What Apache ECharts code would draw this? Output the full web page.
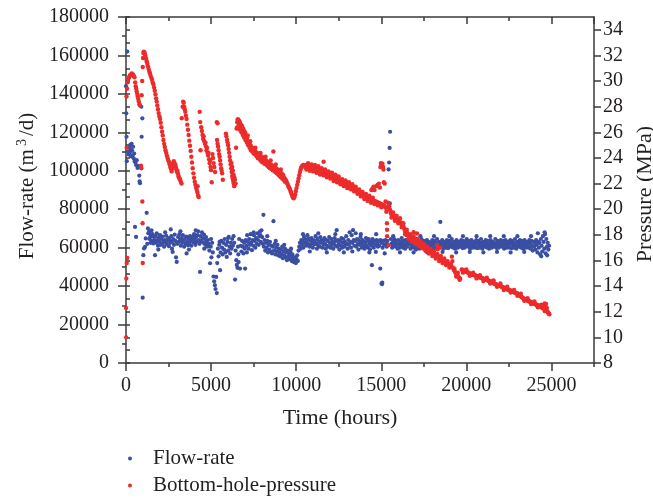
<!DOCTYPE html>
<html>
<head>
<meta charset="utf-8">
<script src="https://cdn.jsdelivr.net/npm/echarts@6/dist/echarts.min.js"></script>
<style>
html,body{margin:0;padding:0;background:#fff;}
#chart{width:653px;height:501px;}
</style>
</head>
<body>
<div id="chart"></div>
<script>
// x-axis ticks (hours) and y-axis ranges
var timeTicks = [0, 5000, 10000, 15000, 20000, 25000];
var flowTicks = [0, 20000, 40000, 60000, 80000, 100000, 120000, 140000, 160000, 180000];
var pressureTicks = [8, 10, 12, 14, 16, 18, 20, 22, 24, 26, 28, 30, 32, 34];
var seriesNames = ['Flow-rate', 'Bottom-hole-pressure'];

// Flow-rate [hours, m3/d]
var flowEarly = [[0,144000],[15,129900],[30,117700],[45,105000],[76,162000],[130,110000],[160,108500],[190,112000],[220,109500],[250,113500],[280,111000],[300,107500],[330,114000],[360,110500],[390,108000],[420,112500],[450,106500],[480,109000],[510,105000],[550,104500],[590,103000],[630,105500],[680,101500],[720,102500],[780,97500],[800,94500],[820,93500],[900,133300],[960,127300],[920,117700],[530,70800],[590,65600],[980,34000]];
var flowBand1 = [[1020,56100],[1060,59600],[1120,60400],[1160,64800],[1215,78100],[1250,62000],[1290,70000],[1310,67500],[1350,68200],[1380,64500],[1420,65600],[1450,62500],[1480,66800],[1520,63500],[1560,67000],[1600,62200],[1640,65500],[1680,63800],[1705,56100],[1740,66000],[1780,62500],[1805,67400],[1840,64000],[1880,61000],[1920,65000],[1960,63000],[2000,66500],[2040,61500],[2080,64500],[2120,62000],[2160,65800],[2200,63200],[2240,60500],[2280,64000],[2320,62800],[2360,66200],[2400,61800],[2440,63800],[2480,65000],[2520,60800],[2560,64200],[2600,62500],[2630,69500],[2660,66000],[2700,63000],[2740,57800],[2780,64500],[2820,61500],[2860,66800],[2900,63500],[2940,54900],[2980,52600],[3020,62000],[3060,65500],[3100,63000],[3140,67000],[3180,64000],[3220,61000],[3260,65000],[3300,62500],[3340,66500],[3380,63500],[3420,60500],[3460,64500],[3500,62000],[3540,65800],[3560,57000],[3600,63000],[3640,61200],[3680,64800],[3720,62300],[3760,66000],[3800,63500],[3840,61000],[3880,64500],[3920,65700],[3960,62800],[4000,67000],[4040,64200],[4080,61500],[4120,65500],[4160,63000],[4200,66500],[4240,68500],[4280,64000],[4320,62000],[4350,47400],[4380,66000],[4420,63500],[4460,68000],[4500,65000],[4540,62500],[4580,66800],[4620,64500],[4660,61500],[4700,65500],[4740,63000],[4780,60500],[4820,64000],[4860,62000],[4900,58500],[4940,51900],[4980,60500],[5020,55000],[5060,62500],[5100,57500],[5140,45000],[5180,42500],[5220,40500],[5260,38500],[5300,44800],[5335,36400],[5360,52000],[5400,59500],[5440,55500],[5480,61500],[5530,48300],[5560,57500],[5600,63500],[5640,60000],[5680,56500],[5720,62500],[5760,59000],[5800,64500],[5840,57500],[5880,61500],[5920,55200],[5960,63000],[6000,58500],[6040,65600],[6080,60500],[6120,57000],[6160,62500],[6200,59500],[6240,64500],[6280,61000],[6320,66000],[6360,62500],[6410,43400],[6440,58500],[6480,53500],[6510,51000],[6550,49500],[6580,60500],[6620,52500],[6650,64500],[6700,49100],[6740,61000],[6780,58000],[6820,63500],[6860,60500],[6900,57000],[6940,62500],[6980,59500],[7000,49100],[7040,64000],[7080,61000],[7120,66500],[7160,63000],[7200,59500],[7240,64500],[7280,61500],[7320,67000],[7360,62500],[7400,58700],[7440,64000],[7480,61000],[7520,66500],[7560,63500],[7600,60000],[7640,65000],[7680,62000],[7720,67500],[7760,64000],[7800,61500],[7840,66000],[7880,68500],[7920,63000],[7960,69000],[8000,65500],[8040,62000],[8075,77100],[8100,60500],[8140,64000],[8180,58500],[8220,62500],[8260,60000],[8300,63500],[8340,57500],[8380,61500],[8420,59000],[8460,63000],[8500,58000],[8540,61000],[8580,57000],[8620,60500],[8665,73800],[8700,58500],[8740,62000],[8780,56500],[8820,60000],[8860,58000],[8900,61500],[8940,56000],[8980,59500],[9020,57500],[9060,55500],[9100,59000],[9140,56500],[9180,60500],[9220,54500],[9260,58000],[9300,56000],[9340,59500],[9380,55000],[9420,57500],[9460,53500],[9500,58500],[9540,55500],[9580,57000],[9620,54000],[9660,58000],[9700,55500],[9740,53000],[9780,56500],[9820,54500],[9860,52500],[9900,55000],[9940,53500],[9980,52000],[10020,54000],[10060,56000],[10100,53000],[10140,58500],[10180,60500],[10220,62500],[10260,59500],[10300,64000],[10340,61500],[10380,63500],[10420,60000],[10460,65500],[10500,62500],[10540,64500],[10580,61000],[10620,63000],[10660,66500],[10700,62000],[10740,64800],[10780,60500],[10820,63800],[10860,61500],[10900,65000],[10940,62500],[10980,60000]];
var flowBand2 = [[11020,64000],[11060,61800],[11100,63500],[11140,66000],[11180,62000],[11220,59500],[11260,64500],[11300,61000],[11340,63000],[11380,60500],[11420,65500],[11460,62500],[11500,64000],[11540,60000],[11580,63500],[11620,61500],[11660,65000],[11700,62000],[11740,59500],[11780,64000],[11820,61000],[11860,63500],[11900,60500],[11940,65500],[11980,62500],[12020,60000],[12060,64500],[12100,61500],[12140,63000],[12180,59500],[12220,62500],[12260,65000],[12300,61000],[12340,63500],[12380,69100],[12420,60500],[12460,64000],[12500,62000],[12540,59000],[12580,63500],[12620,61000],[12660,65000],[12700,60000],[12740,62500],[12780,64500],[12820,60500],[12860,63000],[12900,61500],[12940,66000],[12980,62000],[13020,59500],[13060,64000],[13100,61500],[13140,68000],[13180,63000],[13220,60000],[13260,66500],[13300,62500],[13340,69100],[13380,64000],[13420,61000],[13460,63500],[13500,67500],[13540,60500],[13580,64500],[13620,62000],[13660,59000],[13700,63500],[13740,61500],[13780,65500],[13820,62500],[13860,60000],[13900,64000],[13940,61000],[13980,63000],[14020,59500],[14060,62500],[14100,65000],[14140,61000],[14180,63500],[14220,60000],[14260,64500],[14300,62000],[14340,59000],[14380,63000],[14420,61000],[14450,50900],[14480,64500],[14520,62500],[14560,60000],[14600,63500],[14640,61500],[14680,57800],[14720,64000],[14760,62000],[14800,60500],[14840,63500],[14880,61000],[14940,49100],[14960,64000],[15000,62500],[15020,41500],[15040,41000],[15060,41800],[15080,60000],[15120,63500],[15160,61500],[15200,57000],[15240,64000],[15280,62000],[15320,60500],[15360,63500],[15400,61500],[15430,100700],[15460,104300],[15490,111900],[15520,120300],[15500,83000],[15470,81600],[15560,64500],[15600,62000],[15640,60000],[15680,63000],[15720,61000],[15760,64500],[15800,62500],[15840,60500],[15880,63500],[15920,61500],[15960,59500],[16000,64000],[16040,62000],[16080,60000],[16120,63000],[16160,61000],[16200,65000],[16240,62500],[16280,60000],[16320,63500],[16360,61500],[16400,59500],[16440,64000],[16480,62000],[16520,60500],[16560,63500],[16600,61500],[16640,64500],[16680,62000],[16720,59500],[16760,63000],[16800,61000],[16840,64000],[16880,62500],[16920,60000],[16960,63500],[17000,61500],[17040,59000],[17080,62500],[17120,60500],[17160,64000],[17200,61500],[17240,59500],[17280,63000],[17320,61000],[17360,64500],[17400,62000],[17440,60000],[17480,63500],[17520,61500],[17560,59000],[17600,62500],[17640,60500],[17680,64000],[17720,62000],[17760,60000],[17800,63000],[17840,61000],[17880,58800],[17920,62500],[17960,60500],[18000,64000],[18040,62000],[18080,59500],[18120,63500],[18160,61500],[18200,60000],[18240,62500],[18280,64500],[18320,61000],[18360,59500],[18400,63000],[18440,61000],[18470,73400],[18500,62500],[18540,60500],[18580,64000],[18620,61500],[18660,59500],[18700,63000],[18740,61000],[18780,62500],[18820,60000],[18860,64000],[18900,62000],[18940,59800],[18980,63500],[19020,61000],[19060,62800],[19100,60500],[19140,64500],[19180,62000],[19220,60000],[19260,63000],[19300,61000],[19340,59500],[19380,62500],[19420,64000],[19460,61500],[19500,60000],[19540,63000],[19580,61000],[19620,62500],[19660,60500],[19700,64000],[19740,62000],[19780,59800],[19820,63500],[19860,61500],[19900,60000],[19940,63000],[19980,61000]];
var flowBand3 = [[20020,64500],[20060,62000],[20100,60500],[20140,63500],[20180,61000],[20220,59500],[20260,62500],[20300,64000],[20340,61500],[20380,60000],[20420,63000],[20460,61000],[20500,62500],[20540,60000],[20580,64000],[20620,62000],[20660,59800],[20700,63500],[20740,61500],[20780,60000],[20820,62500],[20860,64500],[20900,61000],[20940,59500],[20980,63000],[21020,61000],[21060,62500],[21100,60500],[21140,64000],[21180,62000],[21220,60000],[21260,63500],[21300,61000],[21340,59500],[21380,62500],[21420,64000],[21460,61500],[21500,60000],[21540,63000],[21580,61000],[21620,62500],[21660,60500],[21700,64500],[21740,62000],[21780,59800],[21820,63500],[21860,61500],[21900,60000],[21940,63000],[21980,61000],[22020,64000],[22060,62000],[22100,60500],[22140,63500],[22180,61000],[22220,59500],[22260,62500],[22300,64000],[22340,61500],[22380,60000],[22420,63000],[22460,61000],[22500,62500],[22540,60000],[22580,64000],[22620,62000],[22660,59800],[22700,63500],[22740,61500],[22780,60000],[22820,62500],[22860,64500],[22900,61000],[22940,59500],[22980,63000],[23020,61000],[23060,62500],[23100,60500],[23140,64000],[23180,62000],[23220,60000],[23260,63500],[23300,61000],[23340,59500],[23380,62500],[23420,64000],[23460,61500],[23500,60000],[23540,63000],[23580,61000],[23620,62500],[23660,60000],[23700,64000],[23740,62000],[23780,59500],[23820,63500],[23860,61000],[23900,58500],[23940,63000],[23980,60500],[24020,62500],[24060,59000],[24100,64000],[24140,61500],[24180,57500],[24220,63000],[24260,60000],[24300,62500],[24340,56500],[24380,64500],[24420,61000],[24460,58000],[24500,66000],[24540,63000],[24580,59500],[24620,67000],[24660,57000],[24700,64500],[24740,60500],[24780,62500],[24820,59000],[24860,61000]];
var flowSpread = [[1500,69000],[1900,59000],[2300,68000],[2700,59500],[3200,68500],[3700,59000],[4100,69000],[4600,59500],[5000,64500],[5500,63000],[6000,65000],[6600,56500],[7100,57500],[7500,68000],[7900,66500],[8300,66000],[8800,63500],[9300,61500],[9700,59500],[10400,67000],[10800,58000],[11300,67500],[11800,57500],[12300,67000],[12800,57500],[13300,58000],[13800,67000],[14300,57500],[14700,67000],[15700,66000],[16100,57500],[16500,66500],[16900,57500],[17300,66000],[17700,57500],[18100,66000],[18600,57800],[19000,66000],[19400,57500],[19800,66000],[20200,57800],[20600,66000],[21000,57500],[21400,66000],[21800,57800],[22200,66000],[22600,57500],[23000,66000],[23400,57800],[23800,66000],[24200,67500],[24400,55500],[24600,68000],[24750,56000]];

// Bottom-hole pressure [hours, MPa]
var pressEarly = [[0,12.3],[10,10.0],[20,14.6],[45,15.8],[70,16.2],[40,24.8],[30,28.8],[60,29.4],[100,29.9],[140,30.2],[180,30.3],[220,30.4],[260,30.5],[300,30.5],[340,30.6],[380,30.5],[420,30.5],[460,30.4],[500,30.3],[540,29.9],[570,29.6],[600,29.4],[630,29.2],[660,29.0],[690,28.8],[720,28.6],[750,28.4],[790,28.2],[820,28.1],[880,23.4],[900,23.2],[920,28.9],[950,30.0],[960,20.6],[975,18.9],[985,15.8]];
var pressHump = [[985,31.1],[1000,31.8],[1020,32.2],[1050,32.3],[1080,32.25],[1110,32.1],[1140,31.95],[1180,31.75],[1215,31.55],[1250,31.35],[1290,31.15],[1330,30.95],[1370,30.75],[1410,30.6],[1450,30.4],[1490,30.25],[1530,30.1],[1570,29.9],[1610,29.75],[1650,29.5],[1690,29.25],[1730,28.95],[1770,28.65],[1805,28.4],[1840,28.1],[1880,27.8],[1920,27.5],[1960,27.25],[2000,27.05],[2040,26.75],[2080,26.4],[2120,26.05],[2160,25.75],[2200,25.4],[2240,25.1],[2280,24.85],[2320,24.6],[2360,24.4],[2400,24.2],[2440,24.0],[2480,23.85],[2520,23.7],[2560,23.5],[2600,23.3],[2640,23.15],[2680,22.95],[2720,23.2],[2750,23.45],[2780,23.65],[2810,23.75],[2840,23.6],[2870,23.4],[2900,23.5],[2930,23.3],[2960,23.1],[2990,22.95],[3020,23.0],[3050,22.8],[3080,22.6],[3110,22.5],[3140,22.4],[3180,22.3],[3220,22.15],[3260,22.0]];
var pressCycles = [[3275,27.1],[3330,28.0],[3360,28.4],[3390,28.3],[3420,28.0],[3450,27.8],[3480,27.6],[3520,27.3],[3560,27.05],[3600,26.6],[3640,26.2],[3680,25.8],[3720,25.35],[3760,24.95],[3800,24.55],[3840,24.1],[3880,23.65],[3920,23.2],[3960,22.8],[4000,22.45],[4040,22.15],[4080,21.9],[4120,21.7],[4160,21.5],[4200,21.3],[4240,21.05],[4270,20.95],[4210,21.8],
  [4330,27.6],[4360,26.8],[4380,24.6],[4420,26.4],[4460,26.1],[4500,25.8],[4530,25.5],[4560,25.7],[4600,25.3],[4640,25.1],[4670,25.2],[4700,24.9],[4730,24.6],[4760,24.8],[4790,24.4],[4820,24.2],[4850,24.4],[4880,23.9],[4910,23.6],[4940,23.8],[4970,23.3],[5000,23.05],[5040,22.1],[5080,24.3],[5110,24.0],[5150,23.6],[5190,23.3],[5235,22.9],[5335,26.8],[5380,26.7],[5350,25.4],[5380,25.1],[5410,24.9],[5440,24.6],[5470,24.3],[5500,24.1],[5530,23.8],[5560,23.5],[5590,23.2],[5620,23.0],[5650,22.8],[5690,22.3],
  [5870,25.9],[5900,25.7],[5940,25.4],[5970,25.2],[6000,25.0],[6030,24.7],[6060,24.4],[6090,24.1],[6120,23.8],[6150,23.5],[6180,23.2],[6210,22.9],[6240,22.6],[6270,22.4],[6300,22.2],[6330,22.0],[6360,21.8],[6200,23.6],[6240,23.3],[6280,23.0],[6320,22.7],[6360,22.5],[6400,22.3],[6440,22.0],[6470,24.8]];
var pressDecline = [[6500,26.3],[6530,26.8],[6560,27.0],[6590,27.0],[6610,26.7],[6640,26.9],[6670,26.6],[6700,26.8],[6730,26.5],[6760,26.6],[6790,26.3],[6820,26.5],[6850,26.2],[6880,26.3],[6910,26.0],[6940,26.1],[6970,25.9],[7000,25.8],[7040,25.7],[7080,25.5],[7120,25.6],[7160,25.3],[7200,25.2],[7240,25.1],[7280,24.95],[7320,25.0],[7360,24.85],[7400,24.8],[7440,24.75],[7480,24.7],[7520,24.6],[7560,24.65],[7600,24.5],[7640,24.45],[7680,24.4],[7720,24.3],[7760,24.35],[7800,24.25],[7840,24.2],[7880,24.1],[7920,24.15],[7960,24.0],[8000,23.95],[8040,24.05],[8080,23.9],[8120,23.85],[8160,23.9],[8200,23.75],[8240,23.8],[8280,23.65],[8320,23.7],[8360,23.55],[8400,23.6],[8440,23.5],[8480,23.45],[8520,23.5],[8560,23.35],[8600,23.4],[8660,24.5],[8700,23.25],[8740,23.3],[8780,23.15],[8820,23.2],[8860,23.05],[8900,23.1],[8940,22.95],[8980,23.0],[9020,22.85],[9060,22.9],[9100,22.75],[9140,22.8],[9180,22.65],[9220,22.7],[9260,22.55],[9300,22.45],[9340,22.35],[9380,22.3],[9420,22.2],[9460,22.05],[9500,21.95],[9540,21.8],[9580,21.7],[9620,21.6],[9660,21.45],[9700,21.3],[9740,21.15],[9780,21.0],[9820,20.9],[9860,20.85],[9900,20.95],[9940,21.15],[9980,21.4],[10020,21.65],[10060,21.9],[10100,22.15],[10140,22.4],[10180,22.65],[10220,22.9],[10260,23.1],[10300,23.25],[10340,23.35],[10380,23.4],[10420,23.45]];
var pressPlateau = [[10460,23.35],[10500,23.4],[10540,23.3],[10580,23.45],[10620,23.35],[10660,23.3],[10700,23.4],[10740,23.25],[10780,23.35],[10820,23.2],[10860,23.3],[10900,23.25],[10940,23.15],[10980,23.3],[11020,23.2],[11060,23.1],[11100,23.25],[11140,23.1],[11180,23.05],[11220,23.2],[11260,23.0],[11300,23.1],[11340,22.95],[11380,23.05],[11420,22.9],[11460,23.0],[11500,22.85],[11540,22.95],[11580,22.85],[11610,23.7],[11650,22.8],[11690,22.9],[11730,22.75],[11770,22.85],[11810,22.7],[11850,22.8],[11890,22.65],[11930,22.75],[11970,22.6],[12010,22.7],[12050,22.55],[12090,22.65],[12130,22.5],[12170,22.6],[12210,22.4],[12250,22.5],[12290,22.35],[12330,22.45],[12370,22.3],[12410,22.4],[12450,22.25],[12490,22.3],[12530,22.15],[12570,22.25],[12610,22.1],[12650,22.2],[12690,22.05],[12730,22.15],[12770,22.0],[12810,22.1],[12850,21.95],[12890,22.05],[12930,21.9],[12970,22.0],[13010,21.85],[13050,21.95],[13090,21.8],[13130,21.9],[13170,21.75],[13210,21.85],[13250,21.7],[13290,21.8],[13330,21.65],[13370,21.75],[13410,21.6],[13450,21.5],[13490,21.55],[13530,21.45],[13570,21.5],[13610,21.35],[13650,21.45],[13690,21.3],[13730,21.35],[13770,21.2],[13810,21.25],[13850,21.1],[13890,21.15],[13930,21.05],[13970,21.1],[14010,20.95],[14050,21.0],[14090,20.9],[14130,20.95],[14170,20.85],[14210,20.9],[14250,20.8],[14290,20.85],[14330,20.75],[14370,20.8],[14410,20.7],[14450,20.75],[14490,20.65],[14530,20.7],[14570,20.6],[14610,20.65],[14650,20.55],[14690,20.6],[14730,20.5],[14770,20.55],[14810,20.45],[14850,20.5],[14890,20.4],[14930,20.45],[14970,20.35],[15010,20.4],[15050,20.3],[15090,20.35],[15130,20.25],[15170,20.3],[15210,20.2],
  [14420,21.5],[14480,21.6],[14540,21.75],[14600,21.5],[14700,21.8],[14780,21.9],[14860,22.0],[14920,21.7],[14950,23.3],[14980,23.6],[15010,23.5],[15040,23.4],[15070,23.55],[15100,23.3],[15130,23.1],[15150,22.1],[15200,22.0]];
var pressLate = [[15250,20.6],[15280,20.1],[15300,19.8],[15335,18.9],[15340,18.4],[15345,17.9],[15430,17.2],[15400,20.5],[15450,20.3],[15500,20.0],[15530,19.9],[15560,19.7],[15600,19.6],[15640,19.7],[15680,19.5],[15720,19.45],[15760,19.5],[15800,19.3],[15840,19.35],[15880,19.2],[15920,19.25],[15960,19.1],[16000,19.15],[16040,19.0],[16080,19.05],[16120,18.9],[16160,18.95],[16200,18.8],[16240,18.85],[16280,18.7],[16320,18.6],[16360,18.45],[16400,18.3],[16440,18.2],[16480,18.1],[16520,18.15],[16560,18.0],[16600,17.95],[16640,17.9],[16680,17.8],[16720,17.85],[16760,17.75],[16800,17.7],[16840,17.72],[16880,17.65],[16900,18.2],[16920,17.6],[16960,17.62],[17000,17.55],[17040,17.5],[17080,17.52],[17100,18.1],[17120,17.45],[17160,17.4],[17200,17.38],[17240,17.32],[17280,17.3],[17320,17.25],[17360,17.2],[17400,17.18],[17440,17.12],[17480,17.1],[17520,17.05],[17560,17.0],[17600,16.98],[17640,16.92],[17680,16.88],[17720,16.85],[17760,16.8],[17800,16.76],[17840,16.72],[17880,16.7],[17920,16.65],[17960,16.62],[18000,16.58],[18040,16.55],[18080,16.5],[18120,16.46],[18160,16.42],[18200,16.38],[18240,16.34],[18270,17.2],[18300,16.9],[18340,16.28],[18380,16.24],[18420,16.2],[18460,16.16],[18470,17.0],[18500,16.12],[18540,16.08],[18580,16.04],[18620,16.0],[18660,15.96],[18700,15.92],[18740,15.95],[18780,15.88],[18820,15.84],[18860,15.8],[18900,15.75],[18940,15.72],[18980,15.68],[19020,15.63],[19060,15.6],[19100,15.55],[19150,16.3],[19180,15.95],[19200,15.45],[19240,15.35],[19280,15.25],[19320,15.15],[19360,15.05],[19400,14.98],[19440,14.9],[19480,14.82],[19520,14.75],[19560,14.68],[19600,14.62],[19640,14.58],
  [19720,15.3],[19760,15.28],[19800,15.25],[19840,15.22],[19880,15.2],[19920,15.18],[19960,15.15],[20000,15.12],[20040,15.1],[20080,15.06],[20120,15.04],[20160,15.0],[20200,14.98],[20240,14.95],[20280,14.93],[20320,14.92],[20360,14.9],[20400,14.88],[20440,14.86],[20480,14.85],[20520,14.84],[20560,14.82],[20600,14.8],[20640,14.78],[20680,14.76],[20720,14.73],[20760,14.7],[20800,14.68],[20840,14.66],[20880,14.64],[20920,14.62],[20960,14.6],[21000,14.58],[21040,14.56],[21080,14.54],[21120,14.52],[21160,14.5],[21200,14.48],[21240,14.46],[21280,14.45],[21320,14.42],[21360,14.4],[21400,14.38],[21440,14.35],[21480,14.32],[21520,14.3],[21560,14.26],[21600,14.23],[21640,14.2],[21680,14.17],[21720,14.15],[21760,14.12],[21800,14.1],[21840,14.08],[21880,14.06],[21920,14.05],[21960,14.03],[22000,14.0],[22040,13.98],[22080,13.95],[22120,13.92],[22160,13.9],[22200,13.88],[22240,13.86],[22280,13.83],[22320,13.8],[22360,13.78],[22400,13.76],[22440,13.74],[22480,13.72],[22520,13.7],[22560,13.68],[22600,13.65],[22640,13.62],[22680,13.6],[22720,13.58],[22760,13.56],[22800,13.53],[22840,13.5],[22880,13.48],[22920,13.46],[22960,13.44],[23000,13.42],[23040,13.38],[23080,13.34],[23120,13.3],[23160,13.25],[23200,13.2],[23240,13.16],[23280,13.12],[23320,13.08],[23360,13.04],[23400,13.0],[23440,12.97],[23480,12.94],[23520,12.92],[23560,12.9],[23600,12.88],[23640,12.85],[23680,12.82],[23720,12.8],[23760,12.78],[23800,12.75],[23840,12.72],[23880,12.7],[23920,12.67],[23960,12.64],[24000,12.62],[24040,12.6],[24080,12.57],[24120,12.54],[24160,12.52],[24200,12.5],[24240,12.47],[24280,12.44],[24320,12.42],[24360,12.4],[24400,12.37],[24440,12.33],[24480,12.3],[24520,12.26],[24560,12.5],[24580,12.22],[24600,12.65],[24620,12.18],[24640,12.4],[24660,12.14],[24680,12.6],[24700,12.1],[24730,12.3],[24760,12.02],[24790,11.96],[24820,11.9],[24850,11.84],[24880,11.8]];
var pressSpread = [[6540,26.4],[6620,26.3],[6700,26.2],[6780,26.0],[6860,25.8],[6940,25.6],[7020,25.4],[7100,25.2],[7180,25.0],[7260,24.8],[7340,24.6],[7420,24.5],[7500,24.35],[7580,24.3],[7660,24.15],[7740,24.0],[7820,23.95],[7900,23.8],[7980,23.7],[8060,23.65],[8140,23.55],[8220,23.5],[8300,23.4],[8380,23.3],[8460,23.2],[8540,23.15],[8620,23.05],[8700,23.0],[8780,22.9],[8860,22.8],[8940,22.7],[9020,22.6],[9100,22.5],[9180,22.4],[9260,22.3],[9340,22.15],[7000,26.0],[7150,25.75],[7300,25.3],[7600,24.8],[7900,24.4],[8200,24.1],[8500,23.8],[8800,23.5],[9100,23.1],
  [10600,23.1],[10700,23.6],[10800,23.0],[10900,23.5],[11000,22.95],[11100,23.45],[11200,22.85],[11300,23.35],[11400,22.7],[11500,23.2],[11600,22.65],[11700,23.1],[11800,22.5],[11900,22.95],[12000,22.4],[12100,22.85],[12200,22.2],[12300,22.7],[12400,22.1],[12500,22.55],[12600,21.95],[12700,22.35],[12800,21.8],[12900,22.25],[13000,21.65],[13100,22.1],[13200,21.55],[13300,21.95],[13400,21.4],[13500,21.75],[13600,21.2],[13700,21.55],[13800,21.0],[13900,21.35],[14000,20.8],[14100,21.2],[14200,20.65],[14300,21.05],[14400,20.5],[14500,20.9],[14600,20.4],[14800,20.3],[15000,20.15],
  [15600,19.35],[15700,19.75],[15800,19.1],[15900,19.5],[16000,18.9],[16100,19.3],[16200,18.6],[16300,18.9],[16400,18.05],[16500,18.4],[16600,17.7],[16700,18.05],[16800,17.45],[16900,17.9],[17000,17.3],[17100,17.7],[17200,17.15],[17300,17.5],[17400,16.95],[17500,17.3],[17600,16.75],[17700,17.1],[17800,16.55],[17900,16.9],[18000,16.35],[18100,16.7],[18200,16.15],[18300,16.5],[18400,15.95],[18500,16.35],[18600,15.8],[18700,16.15],[18800,15.65],[18900,15.95],[19000,15.45],[19100,15.75],[19300,15.35],[19400,14.75],[19500,15.05],[19600,14.5],
  [19800,15.05],[20000,15.3],[20200,14.8],[20400,15.05],[20600,14.6],[20800,14.85],[21000,14.4],[21200,14.65],[21400,14.2],[21600,14.45],[21800,13.95],[22000,14.2],[22200,13.7],[22400,13.95],[22600,13.5],[22800,13.7],[23000,13.25],[23200,13.4],[23400,12.85],[23600,13.05],[23800,12.6],[24000,12.8],[24200,12.35],[24400,12.55],[24600,12.05]];

var flowData = flowEarly.concat(flowBand1, flowBand2, flowBand3, flowSpread);
var pressureData = pressEarly.concat(pressHump, pressCycles, pressDecline, pressPlateau, pressLate, pressSpread);

var FONT = 'Liberation Serif';
var INK = '#231f20';
var AX = '#3a3a3a';
function plain(v) { return String(v); }

var chart = echarts.init(document.getElementById('chart'), null, {renderer: 'canvas'});

function xAx(pos, interval, tickLen, inside, labels, line, name) {
  return {
    type: 'value', position: pos, min: timeTicks[0], max: 27500, interval: interval,
    name: name || '', nameLocation: 'middle', nameGap: 44,
    nameTextStyle: {fontFamily: FONT, fontSize: 22, color: INK, padding: [0, 40, 0, 0]},
    axisLine: {show: line, onZero: false, lineStyle: {color: AX, width: 1.5}},
    axisTick: {show: true, inside: inside, length: tickLen, lineStyle: {color: AX, width: 1.5}},
    axisLabel: {show: labels, margin: 13, fontFamily: FONT, fontSize: 20, color: INK, showMaxLabel: false, formatter: plain},
    splitLine: {show: false}
  };
}

var option = {
  animation: false,
  backgroundColor: '#fff',
  grid: {left: 126, right: 59, top: 17, bottom: 138, containLabel: false, outerBoundsMode: 'none'},
  legend: {
    orient: 'vertical', left: 128, top: 448, itemWidth: 20, itemHeight: 4, itemGap: 6, padding: 0,
    height: 60,
    icon: 'circle',
    data: seriesNames,
    formatter: function (n) { return '{gap|}' + n; },
    textStyle: {fontFamily: FONT, fontSize: 21, color: INK, lineHeight: 21, rich: {gap: {width: 8}}}
  },
  xAxis: [
    xAx('bottom', 5000, 8, false, true, true, 'Time (hours)'),
    xAx('bottom', 2500, 4, false, false, false),
    xAx('top', 5000, 7, true, false, true),
    xAx('top', 2500, 4, true, false, false)
  ],
  yAxis: [
    {
      type: 'value', position: 'left', min: flowTicks[0], max: flowTicks[flowTicks.length - 1], interval: 20000,
      name: 'Flow-rate (m{sup|3}/d)', nameLocation: 'middle', nameGap: 87,
      nameTextStyle: {fontFamily: FONT, fontSize: 21, color: INK, padding: [0, 0, 0, 8],
        rich: {sup: {fontFamily: FONT, fontSize: 14, color: INK, verticalAlign: 'bottom', padding: [0, 3, 10, 3]}}},
      axisLine: {show: true, onZero: false, lineStyle: {color: AX, width: 1.5}},
      axisTick: {show: true, length: 8, lineStyle: {color: AX, width: 1.5}},
      minorTick: {show: true, splitNumber: 2, length: 4, lineStyle: {color: AX, width: 1.5}},
      axisLabel: {margin: 17, fontFamily: FONT, fontSize: 20, color: INK, formatter: plain},
      splitLine: {show: false}, minorSplitLine: {show: false}
    },
    {
      type: 'value', position: 'right', min: pressureTicks[0], max: 35, interval: 2,
      name: 'Pressure (MPa)', nameLocation: 'middle', nameGap: 36, nameRotate: 90,
      nameTextStyle: {fontFamily: FONT, fontSize: 22, color: INK, padding: [0, 8, 0, 0]},
      axisLine: {show: true, onZero: false, lineStyle: {color: AX, width: 1.5}},
      axisTick: {show: true, length: 7, lineStyle: {color: AX, width: 1.5}},
      axisLabel: {margin: 9, fontFamily: FONT, fontSize: 20, color: INK, showMaxLabel: false, formatter: plain},
      splitLine: {show: false}
    },
    {
      type: 'value', position: 'right', min: pressureTicks[0], max: 35, interval: 1,
      axisLine: {show: false},
      axisTick: {show: true, length: 4, lineStyle: {color: AX, width: 1.5}},
      axisLabel: {show: false},
      splitLine: {show: false}
    }
  ],
  series: [
    {
      name: seriesNames[0], type: 'scatter', xAxisIndex: 0, yAxisIndex: 0,
      data: flowData, symbol: 'circle', symbolSize: 4.2,
      itemStyle: {color: '#3a4ea3', opacity: 1}
    },
    {
      name: seriesNames[1], type: 'scatter', xAxisIndex: 0, yAxisIndex: 1,
      data: pressureData, symbol: 'circle', symbolSize: 4.4,
      itemStyle: {color: '#ed2b2b', opacity: 1}
    }
  ]
};
chart.setOption(option);
</script>
</body>
</html>
